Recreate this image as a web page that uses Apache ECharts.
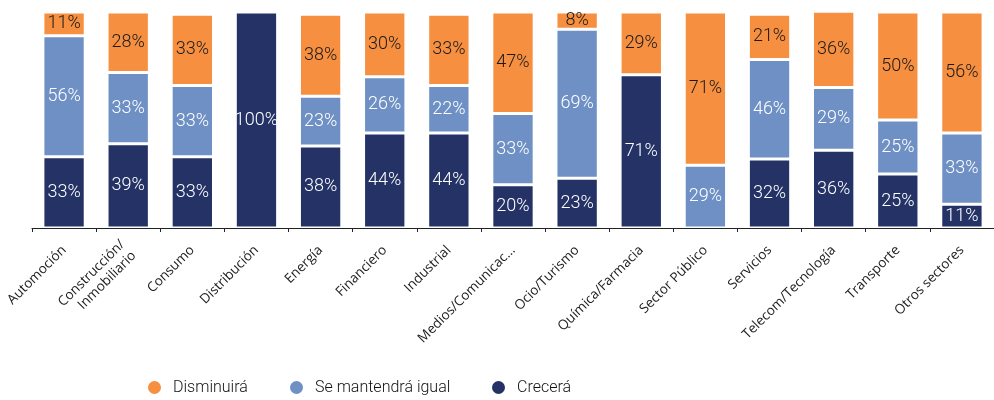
<!DOCTYPE html>
<html>
<head>
<meta charset="utf-8">
<script src="https://cdn.jsdelivr.net/npm/echarts@6/dist/echarts.min.js"></script>
<style>
  html, body { margin: 0; padding: 0; background: #ffffff; }
  #chart { width: 994px; height: 400px; }
</style>
</head>
<body>
<div id="chart"></div>
<script>
// Sector names along the horizontal axis
const sectors = [
  'Automoción', 'Construcción/\nInmobiliario', 'Consumo', 'Distribución', 'Energía',
  'Financiero', 'Industrial', 'Medios/Comunicac...', 'Ocio/Turismo', 'Química/Farmacia',
  'Sector Público', 'Servicios', 'Telecom/Tecnología', 'Transporte', 'Otros sectores'
];

// Share of answers per sector (%)
const crecera      = [33, 39, 33, 100, 38, 44, 44, 20, 23, 71, 0, 32, 36, 25, 11];
const mantendra    = [56, 33, 33, 0, 23, 26, 22, 33, 69, 0, 29, 46, 29, 25, 33];
const disminuira   = [11, 28, 33, 0, 38, 30, 33, 47, 8, 29, 71, 21, 36, 50, 56];

const labelFont = "Roboto, 'Liberation Sans', sans-serif";

const COLORS = {
  crecera: '#243266',
  mantendra: '#6E90C4',
  disminuira: '#F68F40'
};

function stackSeries(name, values, color, labelColor) {
  return {
    name: name,
    type: 'bar',
    stack: 'total',
    barWidth: '66%',
    data: values.map(v => (v === 0 ? null : v)),
    itemStyle: { color: color, borderColor: '#ffffff', borderWidth: 1.5 },
    label: {
      show: true,
      position: 'inside',
      formatter: p => (p.value ? p.value + '%' : ''),
      color: labelColor,
      fontFamily: labelFont,
      fontWeight: 300,
      fontSize: 18
    },
    emphasis: { disabled: true }
  };
}

function legendAt(left, name) {
  return {
    left: left,
    top: 379,
    padding: 0,
    data: [name],
    icon: 'circle',
    itemWidth: 15,
    itemHeight: 15,
    selectedMode: false,
    textStyle: {
      fontFamily: labelFont,
      fontWeight: 300,
      fontSize: 16,
      color: '#111111',
      padding: [0, 0, 0, 6]
    }
  };
}

const chart = echarts.init(document.getElementById('chart'), null, { renderer: 'canvas' });

chart.setOption({
  animation: false,
  backgroundColor: '#ffffff',
  legend: [
    legendAt(146, 'Disminuirá'),
    legendAt(288, 'Se mantendrá igual'),
    legendAt(490, 'Crecerá')
  ],
  grid: { left: 32, right: -7, top: 12, bottom: 172, containLabel: false },
  xAxis: {
    type: 'category',
    data: sectors,
    boundaryGap: true,
    axisLine: { show: true, lineStyle: { color: '#222222', width: 1 } },
    axisTick: { show: true, length: 4, lineStyle: { color: '#222222' } },
    axisLabel: {
      interval: 0,
      rotate: 45,
      margin: 20,
      fontFamily: "'Open Sans', 'Noto Sans', sans-serif",
      fontSize: 13.5,
      color: '#222222',
      lineHeight: 16
    }
  },
  yAxis: {
    type: 'value',
    min: 0,
    max: 100,
    show: false
  },
  series: [
    stackSeries('Crecerá', crecera, COLORS.crecera, '#ffffff'),
    stackSeries('Se mantendrá igual', mantendra, COLORS.mantendra, '#ffffff'),
    stackSeries('Disminuirá', disminuira, COLORS.disminuira, '#1a1a1a')
  ]
});
</script>
</body>
</html>
